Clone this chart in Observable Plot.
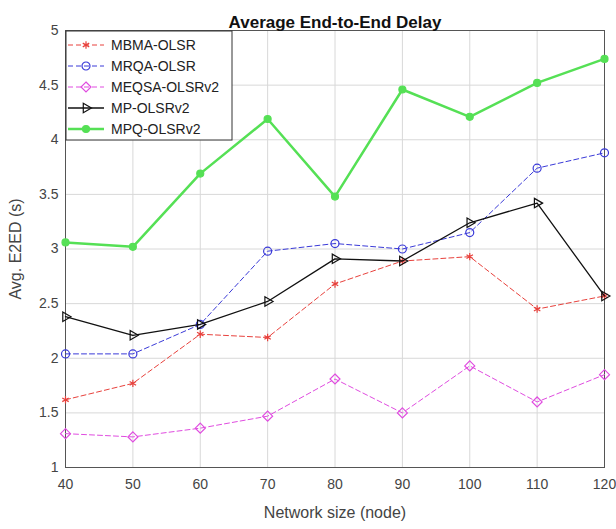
<!DOCTYPE html>
<html><head><meta charset="utf-8">
<script src="https://cdn.jsdelivr.net/npm/d3@7"></script>
<script src="https://cdn.jsdelivr.net/npm/@observablehq/plot@0.6"></script>
<style>body{margin:0;background:#fff;} #chart{width:616px;height:529px}</style>
</head><body><div id="chart"></div>
<script>
const nodes = [40, 50, 60, 70, 80, 90, 100, 110, 120];
const yTicks = [1, 1.5, 2, 2.5, 3, 3.5, 4, 4.5, 5];
const seriesNames = ["MBMA-OLSR", "MRQA-OLSR", "MEQSA-OLSRv2", "MP-OLSRv2", "MPQ-OLSRv2"];
const mbma  = [1.62, 1.77, 2.22, 2.19, 2.68, 2.89, 2.93, 2.45, 2.57];
const mrqa  = [2.04, 2.04, 2.31, 2.98, 3.05, 3.00, 3.15, 3.74, 3.88];
const meqsa = [1.31, 1.28, 1.36, 1.47, 1.81, 1.50, 1.93, 1.60, 1.85];
const mp    = [2.38, 2.21, 2.31, 2.52, 2.91, 2.89, 3.24, 3.42, 2.57];
const mpq   = [3.06, 3.02, 3.69, 4.19, 3.48, 4.46, 4.21, 4.52, 4.74];
const title = "Average End-to-End Delay";
const xLabel = "Network size (node)";
const yLabel = "Avg. E2ED (s)";

const styles = {
  "MBMA-OLSR":    {color: "#e8413c", dash: "5,3", width: 1, symbol: "asterisk", fill: "none", r: 3.5, rotate: 0},
  "MRQA-OLSR":    {color: "#3a3ad8", dash: "5,3", width: 1, symbol: "circle", fill: "none", r: 4, rotate: 0},
  "MEQSA-OLSRv2": {color: "#e04ce0", dash: "5,3", width: 1, symbol: "diamond2", fill: "none", r: 4.5, rotate: 0},
  "MP-OLSRv2":    {color: "#111111", dash: null, width: 1.3, symbol: "triangle2", fill: "none", r: 4.5, rotate: 90},
  "MPQ-OLSRv2":   {color: "#55e055", dash: null, width: 2.5, symbol: "circle", fill: "#55e055", r: 3.5, rotate: 0}
};
const seriesVals = [mbma, mrqa, meqsa, mp, mpq];
const blank = () => "";

const marks = [
  Plot.gridX(nodes, {stroke: "#d8d8d8", strokeOpacity: 1}),
  Plot.gridY(yTicks, {stroke: "#d8d8d8", strokeOpacity: 1}),
  Plot.axisX(nodes, {tickSize: 0, tickPadding: 12, label: null, fontSize: 14, fill: "#444"}),
  Plot.axisX(nodes, {tickSize: 0, tickFormat: blank, label: xLabel, labelAnchor: "center", labelArrow: "none", labelOffset: 50, fontSize: 16, fill: "#444"}),
  Plot.axisY(yTicks, {tickSize: 0, tickPadding: 7, tickFormat: d3.format("~g"), label: null, fontSize: 14, fill: "#444"}),
  Plot.axisY(yTicks, {tickSize: 0, tickFormat: blank, label: yLabel, labelAnchor: "center", labelArrow: "none", labelOffset: 56, fontSize: 16, fill: "#444"}),
  Plot.frame({stroke: "#555"})
];
seriesNames.forEach((name, i) => {
  const s = styles[name];
  const rows = nodes.map((n, j) => ({x: n, y: seriesVals[i][j]}));
  marks.push(Plot.line(rows, {x: "x", y: "y", stroke: s.color, strokeWidth: s.width, strokeDasharray: s.dash}));
  marks.push(Plot.dot(rows, {x: "x", y: "y", stroke: s.color, fill: s.fill, symbol: s.symbol, r: s.r, rotate: s.rotate, strokeWidth: 1.2}));
});
marks.push(Plot.text([title], {frameAnchor: "top", dy: -15, fontWeight: "bold", fontSize: 17, fill: "#111"}));

const svg = Plot.plot({
  width: 616, height: 529,
  marginLeft: 65, marginRight: 12, marginTop: 30, marginBottom: 62,
  style: {fontFamily: "'Liberation Sans', Arial, sans-serif", fontSize: "14px", background: "#fff", color: "#444"},
  x: {domain: [40, 120]},
  y: {domain: [1, 5]},
  marks
});
document.getElementById("chart").appendChild(svg);

// legend
const sym = {asterisk: d3.symbolAsterisk, circle: d3.symbolCircle, diamond2: d3.symbolDiamond2, triangle2: d3.symbolTriangle2};
const g = d3.select(svg).append("g").attr("transform", "translate(66,31)");
g.append("rect").attr("width", 166).attr("height", 109).attr("fill", "#fff").attr("stroke", "#333").attr("stroke-width", 1);
seriesNames.forEach((name, i) => {
  const s = styles[name];
  const y = 14 + i * 21;
  g.append("line").attr("x1", 2).attr("x2", 38).attr("y1", y).attr("y2", y)
    .attr("stroke", s.color).attr("stroke-width", s.width).attr("stroke-dasharray", s.dash);
  g.append("path").attr("d", d3.symbol(sym[s.symbol], Math.PI * s.r * s.r)())
    .attr("transform", `translate(20,${y}) rotate(${s.rotate})`)
    .attr("fill", s.fill).attr("stroke", s.color).attr("stroke-width", 1.2);
  g.append("text").attr("x", 45).attr("y", y).attr("dy", "0.35em").attr("text-anchor", "start")
    .attr("font-size", 14).attr("fill", "#222").text(name);
});
</script>
</body></html>
